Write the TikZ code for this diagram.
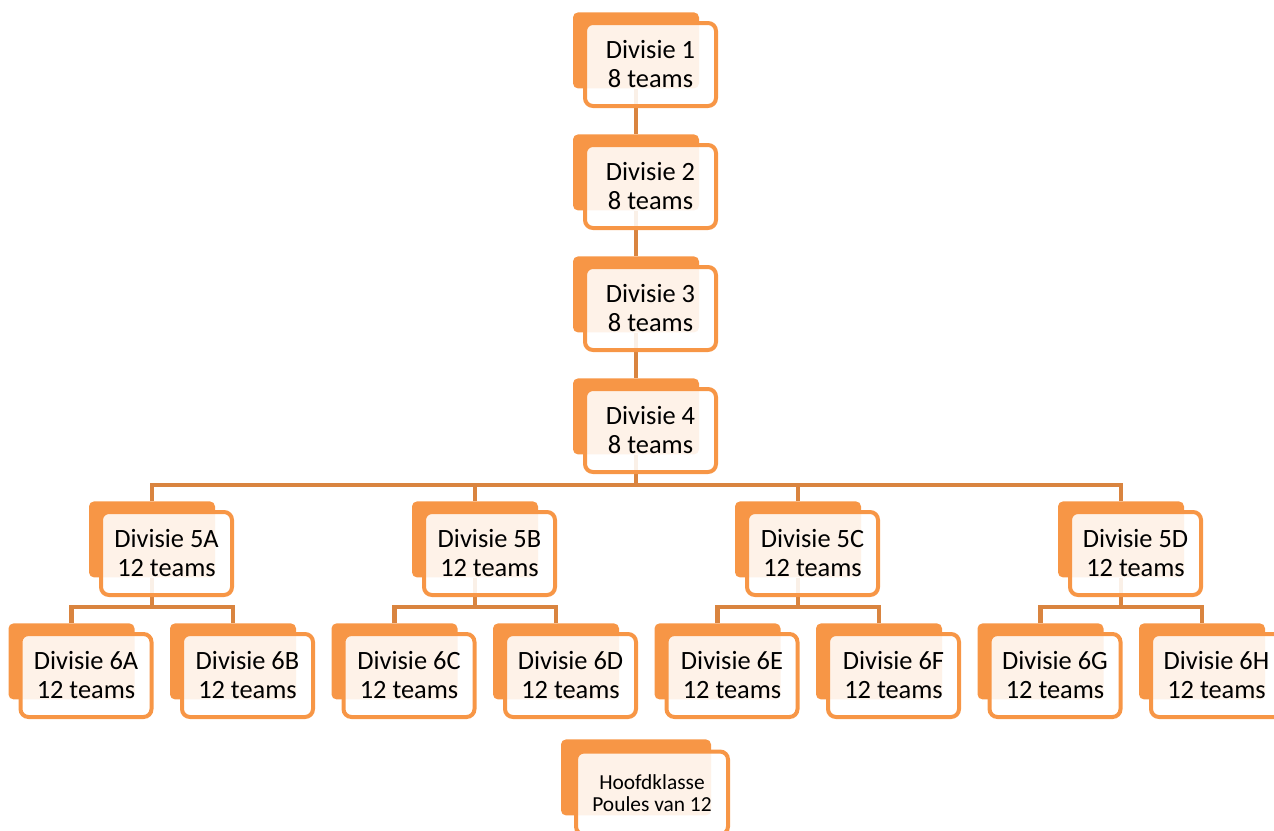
\documentclass[tikz,border=0pt]{standalone}
\usepackage{fontspec}
\setmainfont{Carlito}
\usetikzlibrary{backgrounds}
\definecolor{divorange}{HTML}{F79646}
\definecolor{divline}{HTML}{D9843F}

\begin{document}
\begin{tikzpicture}[x=0.5pt, y=-0.5pt,
  back/.style={fill=divorange, rounded corners=2.5pt, minimum width=63pt, minimum height=38pt, inner sep=0pt, anchor=north},
  front/.style={draw=divorange, line width=2pt, fill=white, fill opacity=0.88, text opacity=1, rounded corners=4pt,
                minimum width=65.5pt, minimum height=41.5pt, inner sep=0pt, align=center,
                font=\fontsize{13.2}{14.5}\selectfont},
  link/.style={draw=divline, line width=2.25pt}]
\useasboundingbox (0,0) rectangle (1274,830);

\foreach \n [evaluate=\n as \ty using 12+122*(\n-1)] in {1,...,4}{
   \node[back] (b\n) at (636,\ty) {};
   \node[front] (d\n) at (650.5,\ty+52.5) {Divisie \n\\8 teams};
   }
\foreach \l [count=\i, evaluate=\i as \cx using 152+323*(\i-1)] in {A,B,C,D}{
   \node[back] (b5\l) at (\cx,501) {};
   \node[front] (d5\l) at (\cx+14.5,553.5) {Divisie 5\l\\12 teams};
   \coordinate (bus5\l) at (\cx,607);
   }
\foreach \l/\p [count=\i, evaluate=\i as \cx using 71.5+161.5*(\i-1)] in {A/A,B/A,C/B,D/B,E/C,F/C,G/D,H/D}{
   \node[back] (b6\l) at (\cx,623) {};
   \node[front] (d6\l) at (\cx+14.5,675.5) {Divisie 6\l\\12 teams};
   }
\node[back, minimum width=75pt] (bhk) at (636,739) {};
\node[front, minimum width=76pt, font=\fontsize{10.7}{10.8}\selectfont] (dhk) at (652,793) {Hoofdklasse\\Poules van 12};

\coordinate (bus4) at (636,485);
\begin{pgfonlayer}{background}
\foreach \a/\b in {1/2,2/3,3/4}
   \draw[link] (b\a.south) -- (b\b.north);
\draw[link] (b4.south) -- (bus4);
\foreach \l in {A,B,C,D}{
   \draw[link] (b5\l.north) |- (bus4);
   \draw[link] (b5\l.south) -- (bus5\l);
   }
\foreach \l/\p in {A/A,B/A,C/B,D/B,E/C,F/C,G/D,H/D}
   \draw[link] (b6\l.north) |- (bus5\p);
\end{pgfonlayer}
\end{tikzpicture}
\end{document}
